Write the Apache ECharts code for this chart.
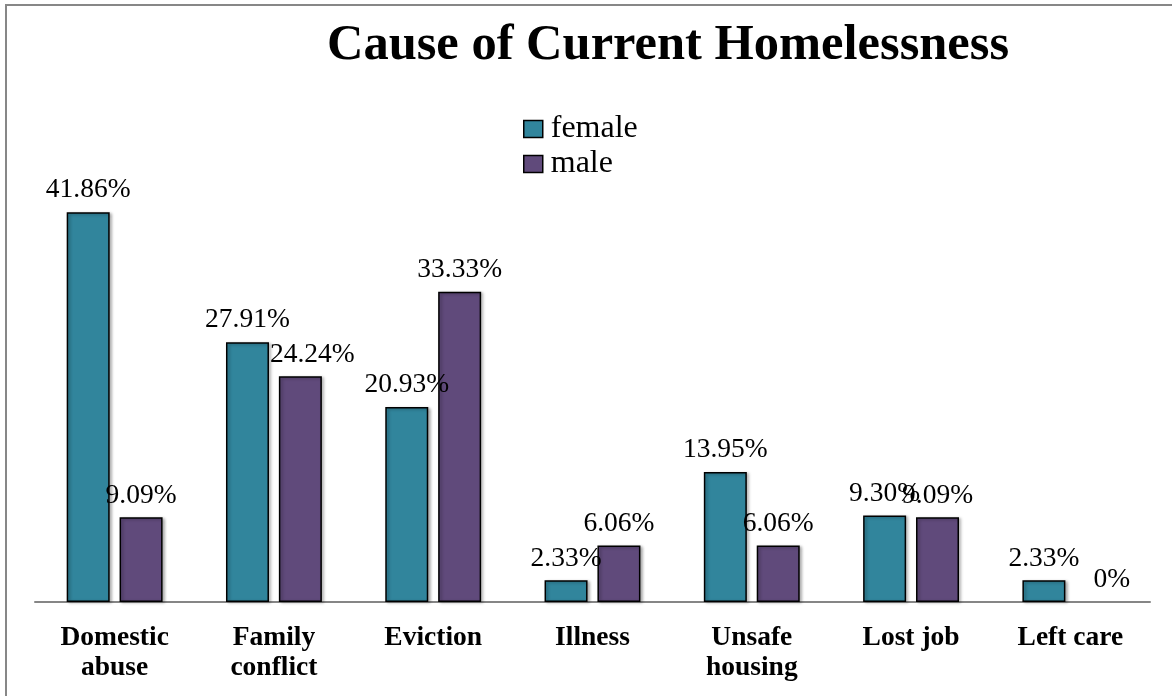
<!DOCTYPE html>
<html>
<head>
<meta charset="utf-8">
<script src="https://cdn.jsdelivr.net/npm/echarts@6/dist/echarts.min.js"></script>
<style>
html,body{margin:0;padding:0;background:#fff;}
#chart{width:1172px;height:696px;}
</style>
</head>
<body>
<div id="chart"></div>
<script>
const categories = ['Domestic\nabuse', 'Family\nconflict', 'Eviction', 'Illness', 'Unsafe\nhousing', 'Lost job', 'Left care'];
const femaleValues = [41.86, 27.91, 20.93, 2.33, 13.95, 9.30, 2.33];
const maleValues = [9.09, 24.24, 33.33, 6.06, 6.06, 9.09, 0];

const FONT = '"Liberation Serif", "DejaVu Serif", serif';
const chart = echarts.init(document.getElementById('chart'));

function fmt(p) {
  return p.value === 0 ? '0%' : p.value.toFixed(2) + '%';
}

const barStyle = (color) => ({
  color: color,
  borderColor: '#000',
  borderWidth: 1.5,
  shadowColor: 'rgba(0,0,0,0.3)',
  shadowBlur: 3,
  shadowOffsetX: 2,
  shadowOffsetY: 1
});

const labelStyle = {
  show: true,
  position: 'top',
  distance: 8,
  fontFamily: FONT,
  fontSize: 27.5,
  color: '#000',
  formatter: fmt
};

// Excel nudged a few labels sideways to avoid overlaps
const maleLabelShift = { 1: 12, 6: 15 };
const maleData = maleValues.map((v, i) => {
  const item = { value: v };
  if (maleLabelShift[i]) item.label = { offset: [maleLabelShift[i], 0] };
  if (v === 0) item.itemStyle = { borderWidth: 0, shadowBlur: 0, shadowOffsetX: 0, shadowOffsetY: 0 };
  return item;
});

chart.setOption({
  animation: false,
  backgroundColor: '#fff',
  graphic: [{
    type: 'rect',
    shape: { x: 6, y: 5, width: 1200, height: 720 },
    style: { fill: 'none', stroke: '#878787', lineWidth: 2 },
    silent: true
  }],
  title: {
    text: 'Cause of Current Homelessness',
    left: 663,
    top: 15,
    textAlign: 'center',
    textStyle: { fontFamily: FONT, fontWeight: 'bold', fontSize: 50.5, color: '#000' }
  },
  legend: {
    orient: 'vertical',
    left: 518,
    top: 108,
    itemWidth: 19,
    itemHeight: 17,
    itemGap: 3,
    icon: 'rect',
    textStyle: { fontFamily: FONT, fontSize: 32, color: '#000', padding: [0, 0, 0, 3] },
    data: [
      { name: 'female', itemStyle: { color: '#31859C', borderColor: '#000', borderWidth: 1.5 } },
      { name: 'male', itemStyle: { color: '#604A7B', borderColor: '#000', borderWidth: 1.5 } }
    ]
  },
  grid: { left: 35, right: 22, top: 183, bottom: 94, containLabel: false },
  xAxis: {
    type: 'category',
    data: categories,
    axisLine: { lineStyle: { color: '#868686', width: 2 } },
    axisTick: { show: false },
    axisLabel: {
      fontFamily: FONT, fontWeight: 'bold', fontSize: 27.5, color: '#000',
      lineHeight: 30, margin: 21, interval: 0
    }
  },
  yAxis: {
    type: 'value',
    min: 0,
    max: 45,
    show: false,
    splitLine: { show: false }
  },
  series: [
    {
      name: 'female', type: 'bar', data: femaleValues,
      barWidth: 43, barGap: '23%',
      itemStyle: barStyle('#31859C'),
      label: labelStyle
    },
    {
      name: 'male', type: 'bar', data: maleData,
      barWidth: 43, barGap: '23%',
      itemStyle: barStyle('#604A7B'),
      label: labelStyle
    }
  ]
});
</script>
</body>
</html>
